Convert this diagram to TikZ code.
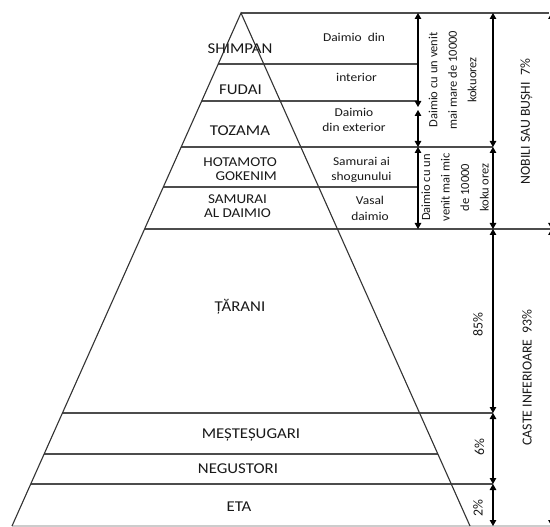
\documentclass[tikz,border=0pt]{standalone}
\usepackage{fontspec}
\setmainfont{Carlito}
\newfontfamily\hfont{Carlito}[FakeStretch=1.12]
\usetikzlibrary{arrows.meta}
\begin{document}
\begin{tikzpicture}[x=1pt,y=-1pt,
  edge/.style={draw=black!80, line width=1.1pt},
  rule/.style={draw=black!70, line width=1.2pt},
  dim/.style={draw=black, line width=1.1pt, {Triangle[width=6.5pt,length=6pt]}-{Triangle[width=6.5pt,length=6pt]}},
  big/.style={inner sep=0, text=black!90, font=\hfont\fontsize{15}{16}\selectfont},
  bigtwo/.style={inner sep=0, text=black!90, align=center, font=\hfont\fontsize{13.5}{14}\selectfont},
  small/.style={inner sep=0, text=black!90, align=center, font=\hfont\fontsize{12}{15.5}\selectfont},
  vsmall/.style={inner sep=0, text=black!90, align=center, rotate=90, font=\fontsize{12.5}{19.5}\selectfont},
  vbig/.style={inner sep=0, text=black!90, rotate=90, font=\fontsize{13.8}{16}\selectfont},
]
\useasboundingbox (0,0) rectangle (550,527);
\fill[white] (0,0) rectangle (550,527);

% pyramid corners
\coordinate (apex) at (241,13);
\coordinate (bl) at (12,526);
\coordinate (br) at (470,526);

% horizontal rules
\coordinate (t1) at (549,13);
\coordinate (a1) at (218.2,64);  \coordinate (a2) at (418,64);
\coordinate (b1) at (201.7,101); \coordinate (b2) at (418,101);
\coordinate (c1) at (181.2,147); \coordinate (c2) at (493,147);
\coordinate (d1) at (163.3,187); \coordinate (d2) at (418,187);
\coordinate (e1) at (144.6,229); \coordinate (e2) at (550,229);
\coordinate (f1) at (62.4,413);  \coordinate (f2) at (493,413);
\coordinate (g1) at (44.1,454);  \coordinate (g2) at (437.9,454);
\coordinate (h1) at (30.7,484);  \coordinate (h2) at (493,484);
\coordinate (k2) at (550,526);

\draw[rule] (apex) -- (t1);
\draw[rule] (a1) -- (a2);
\draw[rule] (b1) -- (b2);
\draw[rule] (c1) -- (c2);
\draw[rule] (d1) -- (d2);
\draw[rule] (e1) -- (e2);
\draw[rule] (f1) -- (f2);
\draw[rule] (g1) -- (g2);
\draw[rule] (h1) -- (h2);
\draw[draw=black!20, line width=1.2pt] (bl) -- (k2);

\draw[edge] (bl) -- (apex) -- (br);

% dimension arrows, column 1
\coordinate (p1) at (418,13);  \coordinate (p2) at (418,107);
\coordinate (p3) at (418,110); \coordinate (p4) at (418,147);
\coordinate (p5) at (418,229);
\draw[dim] (p1) -- (p2);
\draw[dim] (p3) -- (p4);
\draw[dim] (p4) -- (p5);
% column 2
\coordinate (q1) at (493,13);  \coordinate (q2) at (493,147);
\coordinate (q3) at (493,229); \coordinate (q4) at (493,413);
\coordinate (q5) at (493,484); \coordinate (q6) at (493,526);
\draw[dim] (q1) -- (q2);
\draw[dim] (q2) -- (q3);
\draw[dim] (q3) -- (q4);
\draw[dim] (q4) -- (q5);
\draw[dim] (q5) -- (q6);
% column 3 (at the edge)
\coordinate (r1) at (551.5,13); \coordinate (r2) at (551.5,229); \coordinate (r3) at (551.5,526);
\draw[dim] (r1) -- (r2);
\draw[dim] (r2) -- (r3);

% pyramid labels
\node[big] (shimpan) at (240,48.5) {SHIMPAN};
\node[big] (fudai) at (240.5,90) {FUDAI};
\node[big] (tozama) at (240,130.5) {TOZAMA};
\node[bigtwo, align=right, anchor=east] (hotamoto) at (277,169) {HOTAMOTO\\GOKENIM};
\node[bigtwo] (samurai) at (237.5,206) {SAMURAI\\AL DAIMIO};
\node[big] (tarani) at (240,307) {ȚĂRANI};
\node[big] (mestesugari) at (251,434.5) {MEȘTEȘUGARI};
\node[big] (negustori) at (238,469) {NEGUSTORI};
\node[big] (eta) at (239,506.5) {ETA};

% middle column labels
\node[small] (ddin) at (354,37) {Daimio\ \ din};
\node[small] (interior) at (356.5,77) {interior};
\node[small] (dext) at (354,120) {Daimio\\din exterior};
\node[small] (samai) at (361.5,170) {Samurai ai\\shogunului};
\node[small] (vasal) at (370,208.5) {Vasal\\daimio};

% rotated labels
\node[vsmall] (mare) at (452.5,80) {Daimio cu un venit\\mai mare de 10000\\kokuorez};
\node[vsmall] (mic) at (455,187.5) {Daimio cu un\\venit mai mic\\de 10000\\koku orez};
\node[vbig] (nobili) at (526.5,121.5) {NOBILI SAU BUȘHI\ \ 7\%};
\node[vbig] (caste) at (527,377.5) {CASTE INFERIOARE\ \ 93\%};
\node[vbig] (pc85) at (478,325) {85\%};
\node[vbig] (pc6) at (479.5,447) {6\%};
\node[vbig] (pc2) at (478,508.5) {2\%};
\end{tikzpicture}
\end{document}
